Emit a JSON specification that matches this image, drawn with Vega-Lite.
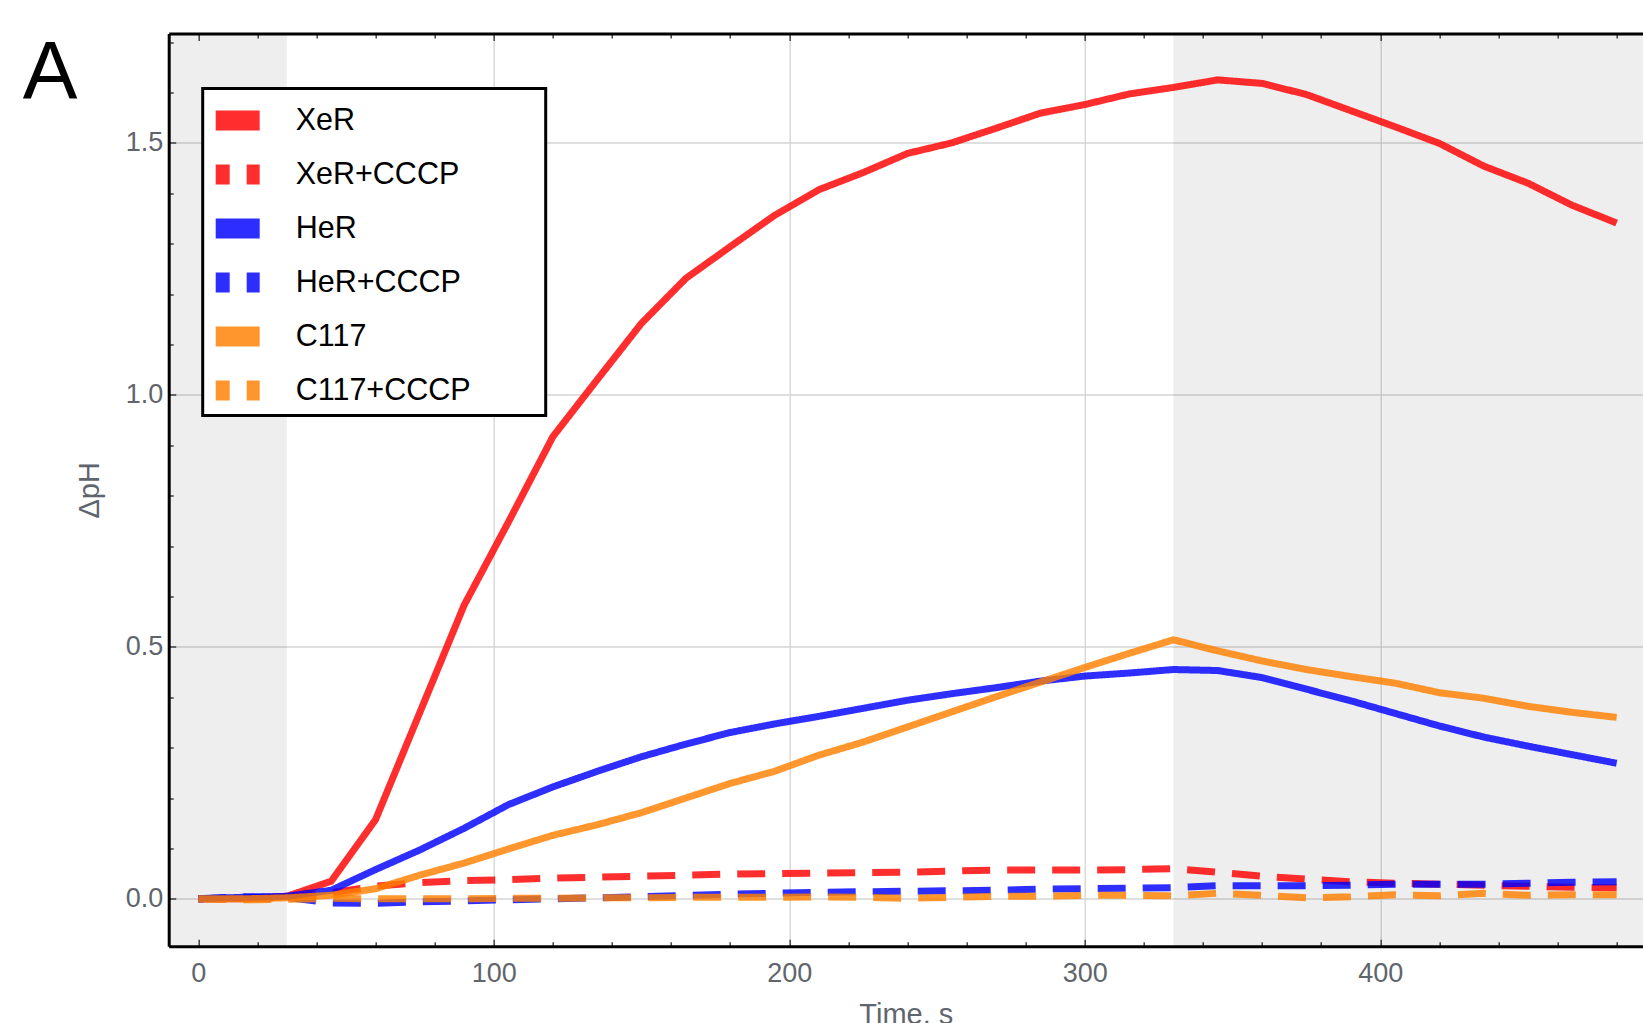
{
  "$schema": "https://vega.github.io/schema/vega-lite/v6.json",
  "width": 1474.3,
  "height": 912.7,
  "autosize": {"type": "none"},
  "padding": {"left": 168.7, "top": 33.5, "right": 0, "bottom": 76.8},
  "config": {
    "view": {"stroke": null},
    "font": "Liberation Sans",
    "axis": {"labelFont": "Liberation Sans", "titleFont": "Liberation Sans"},
    "legend": {"strokeWidth": 3}
  },
  "title": {
    "text": "A",
    "anchor": "start",
    "frame": "group",
    "orient": "top",
    "font": "Liberation Sans",
    "fontSize": 82,
    "fontWeight": "normal",
    "color": "black",
    "baseline": "alphabetic",
    "offset": 0,
    "dx": -146,
    "dy": 147
  },
  "datasets": {
    "shade": [
      {"start": -10, "end": 30},
      {"start": 330, "end": 490}
    ],
    "series": [
      {"series":"XeR","time":0,"dpH":0},{"series":"XeR","time":15,"dpH":0},{"series":"XeR","time":30,"dpH":0.005},{"series":"XeR","time":45,"dpH":0.035},{"series":"XeR","time":60,"dpH":0.157},{"series":"XeR","time":75,"dpH":0.37},{"series":"XeR","time":90,"dpH":0.583},{"series":"XeR","time":105,"dpH":0.748},{"series":"XeR","time":120,"dpH":0.917},{"series":"XeR","time":135,"dpH":1.03},{"series":"XeR","time":150,"dpH":1.142},{"series":"XeR","time":165,"dpH":1.231},{"series":"XeR","time":180,"dpH":1.294},{"series":"XeR","time":195,"dpH":1.356},{"series":"XeR","time":210,"dpH":1.407},{"series":"XeR","time":225,"dpH":1.441},{"series":"XeR","time":240,"dpH":1.479},{"series":"XeR","time":255,"dpH":1.5},{"series":"XeR","time":270,"dpH":1.529},{"series":"XeR","time":285,"dpH":1.559},{"series":"XeR","time":300,"dpH":1.576},{"series":"XeR","time":315,"dpH":1.597},{"series":"XeR","time":330,"dpH":1.61},{"series":"XeR","time":345,"dpH":1.625},{"series":"XeR","time":360,"dpH":1.618},{"series":"XeR","time":375,"dpH":1.596},{"series":"XeR","time":390,"dpH":1.564},{"series":"XeR","time":405,"dpH":1.532},{"series":"XeR","time":420,"dpH":1.499},{"series":"XeR","time":435,"dpH":1.454},{"series":"XeR","time":450,"dpH":1.42},{"series":"XeR","time":465,"dpH":1.376},{"series":"XeR","time":480,"dpH":1.341},
      {"series":"XeR+CCCP","time":0,"dpH":0},{"series":"XeR+CCCP","time":15,"dpH":0},{"series":"XeR+CCCP","time":30,"dpH":0.002},{"series":"XeR+CCCP","time":45,"dpH":0.012},{"series":"XeR+CCCP","time":60,"dpH":0.025},{"series":"XeR+CCCP","time":75,"dpH":0.032},{"series":"XeR+CCCP","time":90,"dpH":0.036},{"series":"XeR+CCCP","time":105,"dpH":0.038},{"series":"XeR+CCCP","time":120,"dpH":0.041},{"series":"XeR+CCCP","time":135,"dpH":0.043},{"series":"XeR+CCCP","time":150,"dpH":0.045},{"series":"XeR+CCCP","time":165,"dpH":0.047},{"series":"XeR+CCCP","time":180,"dpH":0.049},{"series":"XeR+CCCP","time":195,"dpH":0.05},{"series":"XeR+CCCP","time":210,"dpH":0.051},{"series":"XeR+CCCP","time":225,"dpH":0.052},{"series":"XeR+CCCP","time":240,"dpH":0.053},{"series":"XeR+CCCP","time":255,"dpH":0.055},{"series":"XeR+CCCP","time":270,"dpH":0.057},{"series":"XeR+CCCP","time":285,"dpH":0.057},{"series":"XeR+CCCP","time":300,"dpH":0.057},{"series":"XeR+CCCP","time":315,"dpH":0.058},{"series":"XeR+CCCP","time":330,"dpH":0.06},{"series":"XeR+CCCP","time":345,"dpH":0.053},{"series":"XeR+CCCP","time":360,"dpH":0.045},{"series":"XeR+CCCP","time":375,"dpH":0.039},{"series":"XeR+CCCP","time":390,"dpH":0.034},{"series":"XeR+CCCP","time":405,"dpH":0.031},{"series":"XeR+CCCP","time":420,"dpH":0.029},{"series":"XeR+CCCP","time":435,"dpH":0.027},{"series":"XeR+CCCP","time":450,"dpH":0.025},{"series":"XeR+CCCP","time":465,"dpH":0.023},{"series":"XeR+CCCP","time":480,"dpH":0.022},
      {"series":"HeR+CCCP","time":0,"dpH":0},{"series":"HeR+CCCP","time":15,"dpH":0.004},{"series":"HeR+CCCP","time":30,"dpH":0.003},{"series":"HeR+CCCP","time":45,"dpH":-0.008},{"series":"HeR+CCCP","time":60,"dpH":-0.009},{"series":"HeR+CCCP","time":75,"dpH":-0.006},{"series":"HeR+CCCP","time":90,"dpH":-0.004},{"series":"HeR+CCCP","time":105,"dpH":-0.002},{"series":"HeR+CCCP","time":120,"dpH":0},{"series":"HeR+CCCP","time":135,"dpH":0.002},{"series":"HeR+CCCP","time":150,"dpH":0.004},{"series":"HeR+CCCP","time":165,"dpH":0.007},{"series":"HeR+CCCP","time":180,"dpH":0.009},{"series":"HeR+CCCP","time":195,"dpH":0.011},{"series":"HeR+CCCP","time":210,"dpH":0.013},{"series":"HeR+CCCP","time":225,"dpH":0.014},{"series":"HeR+CCCP","time":240,"dpH":0.015},{"series":"HeR+CCCP","time":255,"dpH":0.016},{"series":"HeR+CCCP","time":270,"dpH":0.017},{"series":"HeR+CCCP","time":285,"dpH":0.019},{"series":"HeR+CCCP","time":300,"dpH":0.02},{"series":"HeR+CCCP","time":315,"dpH":0.021},{"series":"HeR+CCCP","time":330,"dpH":0.022},{"series":"HeR+CCCP","time":345,"dpH":0.026},{"series":"HeR+CCCP","time":360,"dpH":0.026},{"series":"HeR+CCCP","time":375,"dpH":0.026},{"series":"HeR+CCCP","time":390,"dpH":0.027},{"series":"HeR+CCCP","time":405,"dpH":0.029},{"series":"HeR+CCCP","time":420,"dpH":0.029},{"series":"HeR+CCCP","time":435,"dpH":0.029},{"series":"HeR+CCCP","time":450,"dpH":0.031},{"series":"HeR+CCCP","time":465,"dpH":0.033},{"series":"HeR+CCCP","time":480,"dpH":0.034},
      {"series":"C117+CCCP","time":0,"dpH":0},{"series":"C117+CCCP","time":15,"dpH":-0.002},{"series":"C117+CCCP","time":30,"dpH":-0.001},{"series":"C117+CCCP","time":45,"dpH":0.001},{"series":"C117+CCCP","time":60,"dpH":0},{"series":"C117+CCCP","time":75,"dpH":0},{"series":"C117+CCCP","time":90,"dpH":0},{"series":"C117+CCCP","time":105,"dpH":0.001},{"series":"C117+CCCP","time":120,"dpH":0.001},{"series":"C117+CCCP","time":135,"dpH":0.002},{"series":"C117+CCCP","time":150,"dpH":0.002},{"series":"C117+CCCP","time":165,"dpH":0.003},{"series":"C117+CCCP","time":180,"dpH":0.003},{"series":"C117+CCCP","time":195,"dpH":0.003},{"series":"C117+CCCP","time":210,"dpH":0.004},{"series":"C117+CCCP","time":225,"dpH":0.003},{"series":"C117+CCCP","time":240,"dpH":0.001},{"series":"C117+CCCP","time":255,"dpH":0.003},{"series":"C117+CCCP","time":270,"dpH":0.005},{"series":"C117+CCCP","time":285,"dpH":0.005},{"series":"C117+CCCP","time":300,"dpH":0.007},{"series":"C117+CCCP","time":315,"dpH":0.007},{"series":"C117+CCCP","time":330,"dpH":0.006},{"series":"C117+CCCP","time":345,"dpH":0.011},{"series":"C117+CCCP","time":360,"dpH":0.007},{"series":"C117+CCCP","time":375,"dpH":0.002},{"series":"C117+CCCP","time":390,"dpH":0.004},{"series":"C117+CCCP","time":405,"dpH":0.008},{"series":"C117+CCCP","time":420,"dpH":0.006},{"series":"C117+CCCP","time":435,"dpH":0.011},{"series":"C117+CCCP","time":450,"dpH":0.007},{"series":"C117+CCCP","time":465,"dpH":0.008},{"series":"C117+CCCP","time":480,"dpH":0.008},
      {"series":"HeR","time":0,"dpH":0},{"series":"HeR","time":15,"dpH":0.003},{"series":"HeR","time":30,"dpH":0.005},{"series":"HeR","time":45,"dpH":0.017},{"series":"HeR","time":60,"dpH":0.058},{"series":"HeR","time":75,"dpH":0.097},{"series":"HeR","time":90,"dpH":0.14},{"series":"HeR","time":105,"dpH":0.187},{"series":"HeR","time":120,"dpH":0.222},{"series":"HeR","time":135,"dpH":0.253},{"series":"HeR","time":150,"dpH":0.282},{"series":"HeR","time":165,"dpH":0.307},{"series":"HeR","time":180,"dpH":0.33},{"series":"HeR","time":195,"dpH":0.347},{"series":"HeR","time":210,"dpH":0.362},{"series":"HeR","time":225,"dpH":0.378},{"series":"HeR","time":240,"dpH":0.394},{"series":"HeR","time":255,"dpH":0.407},{"series":"HeR","time":270,"dpH":0.419},{"series":"HeR","time":285,"dpH":0.432},{"series":"HeR","time":300,"dpH":0.442},{"series":"HeR","time":315,"dpH":0.448},{"series":"HeR","time":330,"dpH":0.455},{"series":"HeR","time":345,"dpH":0.453},{"series":"HeR","time":360,"dpH":0.439},{"series":"HeR","time":375,"dpH":0.416},{"series":"HeR","time":390,"dpH":0.393},{"series":"HeR","time":405,"dpH":0.368},{"series":"HeR","time":420,"dpH":0.343},{"series":"HeR","time":435,"dpH":0.321},{"series":"HeR","time":450,"dpH":0.303},{"series":"HeR","time":465,"dpH":0.286},{"series":"HeR","time":480,"dpH":0.269},
      {"series":"C117","time":0,"dpH":0},{"series":"C117","time":15,"dpH":0},{"series":"C117","time":30,"dpH":0.002},{"series":"C117","time":45,"dpH":0.007},{"series":"C117","time":60,"dpH":0.02},{"series":"C117","time":75,"dpH":0.047},{"series":"C117","time":90,"dpH":0.071},{"series":"C117","time":105,"dpH":0.099},{"series":"C117","time":120,"dpH":0.126},{"series":"C117","time":135,"dpH":0.147},{"series":"C117","time":150,"dpH":0.171},{"series":"C117","time":165,"dpH":0.2},{"series":"C117","time":180,"dpH":0.229},{"series":"C117","time":195,"dpH":0.253},{"series":"C117","time":210,"dpH":0.285},{"series":"C117","time":225,"dpH":0.311},{"series":"C117","time":240,"dpH":0.341},{"series":"C117","time":255,"dpH":0.371},{"series":"C117","time":270,"dpH":0.401},{"series":"C117","time":285,"dpH":0.43},{"series":"C117","time":300,"dpH":0.459},{"series":"C117","time":315,"dpH":0.487},{"series":"C117","time":330,"dpH":0.514},{"series":"C117","time":345,"dpH":0.492},{"series":"C117","time":360,"dpH":0.472},{"series":"C117","time":375,"dpH":0.455},{"series":"C117","time":390,"dpH":0.441},{"series":"C117","time":405,"dpH":0.428},{"series":"C117","time":420,"dpH":0.409},{"series":"C117","time":435,"dpH":0.398},{"series":"C117","time":450,"dpH":0.382},{"series":"C117","time":465,"dpH":0.37},{"series":"C117","time":480,"dpH":0.36}
    ]
  },
  "layer": [
    {
      "data": {"name": "shade"},
      "mark": {"type": "rect", "color": "#000000", "opacity": 0.065, "clip": true},
      "encoding": {
        "x": {
          "field": "start", "type": "quantitative",
          "scale": {"domain": [-10, 488.92], "nice": false, "zero": false},
          "axis": {
            "orient": "top",
            "values": [0,20,40,60,80,100,120,140,160,180,200,220,240,260,280,300,320,340,360,380,400,420,440,460,480],
            "labels": false, "grid": false, "title": null,
            "domain": true, "domainColor": "#000000", "domainWidth": 3,
            "ticks": true, "tickColor": "#444444", "tickWidth": 1.5,
            "tickSize": {"condition": {"test": "datum.value % 100 === 0", "value": -7}, "value": -4.5}
          }
        },
        "x2": {"field": "end"}
      }
    },
    {
      "data": {"name": "series"},
      "mark": {"type": "line", "opacity": 0.82, "clip": true, "strokeWidth": 7},
      "encoding": {
        "x": {
          "field": "time", "type": "quantitative",
          "scale": {"domain": [-10, 488.92], "nice": false, "zero": false},
          "axis": {
            "orient": "bottom",
            "values": [0,20,40,60,80,100,120,140,160,180,200,220,240,260,280,300,320,340,360,380,400,420,440,460,480],
            "labelExpr": "datum.value % 100 === 0 ? datum.label : ''",
            "grid": true, "gridColor": "#d4d4d4", "gridWidth": 1.3,
            "gridOpacity": {"condition": {"test": "datum.value % 100 === 0 && datum.value > 0", "value": 1}, "value": 0},
            "domain": true, "domainColor": "#000000", "domainWidth": 3,
            "ticks": true, "tickColor": "#444444", "tickWidth": 1.5,
            "tickSize": {"condition": {"test": "datum.value % 100 === 0", "value": -7}, "value": -4.5},
            "labelFontSize": 27, "labelColor": "#5f656c", "labelPadding": 21, "labelFlush": false,
            "title": "Time, s", "titleFontSize": 29, "titleFontWeight": "normal", "titleColor": "#5f656c",
            "titleBaseline": "top", "titleY": 54
          }
        },
        "y": {
          "field": "dpH", "type": "quantitative",
          "scale": {"domain": [-0.094, 1.717], "nice": false, "zero": false},
          "axis": {
            "orient": "left",
            "values": [0,0.1,0.2,0.3,0.4,0.5,0.6,0.7,0.8,0.9,1,1.1,1.2,1.3,1.4,1.5,1.6,1.7],
            "labelExpr": "indexof([0,0.5,1,1.5], datum.value) >= 0 ? format(datum.value, '.1f') : ''",
            "grid": true, "gridColor": "#d4d4d4", "gridWidth": 1.3,
            "gridOpacity": {"condition": {"test": "indexof([0,0.5,1,1.5], datum.value) >= 0", "value": 1}, "value": 0},
            "domain": true, "domainColor": "#000000", "domainWidth": 3,
            "ticks": true, "tickColor": "#444444", "tickWidth": 1.5,
            "tickSize": {"condition": {"test": "indexof([0,0.5,1,1.5], datum.value) >= 0", "value": -7}, "value": -4.5},
            "labelFontSize": 27, "labelColor": "#5f656c", "labelPadding": 13, "labelFlush": false,
            "title": "ΔpH", "titleFontSize": 29, "titleFontWeight": "normal", "titleColor": "#5f656c",
            "titleAngle": 270, "titleBaseline": "middle", "titleX": -79
          }
        },
        "color": {
          "field": "series", "type": "nominal",
          "scale": {
            "domain": ["XeR", "XeR+CCCP", "HeR", "HeR+CCCP", "C117", "C117+CCCP"],
            "range": ["#ff0000", "#ff0000", "#0000ff", "#0000ff", "#ff8000", "#ff8000"]
          },
          "legend": {
            "title": null,
            "orient": "none",
            "legendX": 34,
            "legendY": 55,
            "padding": 9,
            "strokeColor": "#000000",
            "fillColor": "#ffffff",
            "symbolType": "M-1,-0.41H1M-1,-0.328H1M-1,-0.246H1M-1,-0.164H1M-1,-0.082H1M-1,0H1M-1,0.082H1M-1,0.164H1M-1,0.246H1M-1,0.328H1M-1,0.41H1",
            "symbolSize": 1936,
            "symbolStrokeWidth": 2,
            "symbolOpacity": 1,
            "symbolOffset": 3,
            "symbolDashOffset": 14,
            "labelFont": "Liberation Sans",
            "labelFontSize": 30.5,
            "labelColor": "#000000",
            "labelOffset": 35,
            "labelLimit": 600,
            "rowPadding": 15,
            "labelExpr": "datum.label + '\u00a0\u00a0\u00a0\u00a0\u00a0\u2800'"
          }
        },
        "strokeDash": {
          "field": "series", "type": "nominal",
          "scale": {
            "domain": ["XeR", "XeR+CCCP", "HeR", "HeR+CCCP", "C117", "C117+CCCP"],
            "range": [[1, 0], [28, 17], [1, 0], [28, 17], [1, 0], [28, 17]]
          }
        }
      }
    }
  ],
  "resolve": {
    "axis": {"x": "independent", "y": "independent"}
  }
}
